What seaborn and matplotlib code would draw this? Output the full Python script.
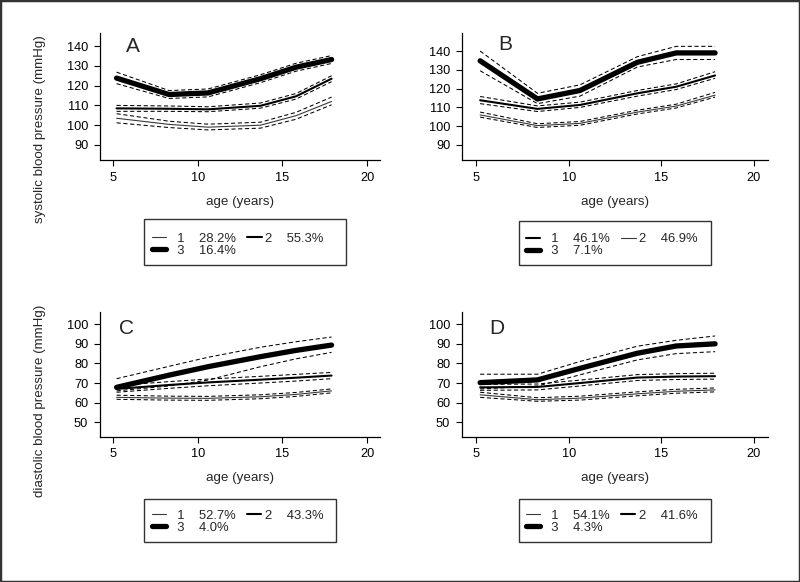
import matplotlib
matplotlib.use("Agg")
import matplotlib.pyplot as plt
from matplotlib.lines import Line2D
from matplotlib.patches import Rectangle
import seaborn as sns

sns.set_style("ticks")
plt.rcParams['font.family'] = ['Liberation Sans', 'DejaVu Sans']

# measurement waves (age in years)
ages = [5.2, 8.3, 10.6, 13.7, 15.8, 17.9]

# A: systolic, boys (class 1, 2, 3): estimate, lower, upper
a1 = [103.5, 100.4, 99.0, 100.0, 104.8, 112.0]
a1_lo = [101.2, 98.8, 97.6, 98.5, 103.0, 110.3]
a1_hi = [105.8, 102.0, 100.5, 101.5, 106.5, 114.2]
a2 = [108.5, 108.3, 108.0, 109.8, 114.6, 123.5]
a2_lo = [107.0, 107.0, 106.8, 108.6, 113.2, 122.0]
a2_hi = [110.0, 109.7, 109.3, 111.2, 116.0, 125.0]
a3 = [123.8, 115.5, 116.3, 123.5, 129.3, 133.2]
a3_lo = [121.0, 113.5, 114.3, 121.5, 127.3, 131.2]
a3_hi = [126.8, 117.5, 118.3, 125.5, 131.3, 135.2]

# B: systolic, girls
b1 = [113.8, 109.2, 111.3, 117.5, 121.0, 127.0]
b1_lo = [112.0, 107.8, 110.0, 116.0, 119.5, 125.5]
b1_hi = [115.8, 110.8, 112.8, 119.0, 122.5, 129.0]
b2 = [106.0, 100.3, 101.5, 107.5, 110.7, 116.5]
b2_lo = [104.8, 99.3, 100.5, 106.5, 109.7, 115.5]
b2_hi = [107.5, 101.3, 102.5, 108.5, 111.7, 118.0]
b3 = [134.8, 114.5, 119.0, 134.0, 139.0, 139.0]
b3_lo = [129.5, 112.0, 116.0, 131.5, 135.5, 135.5]
b3_hi = [140.0, 117.5, 122.0, 137.0, 142.5, 142.5]

# C: diastolic, boys
c1 = [62.7, 62.3, 62.2, 63.0, 64.2, 66.0]
c1_lo = [61.7, 61.3, 61.2, 62.0, 63.2, 65.0]
c1_hi = [63.8, 63.3, 63.2, 64.0, 65.2, 67.0]
c2 = [67.0, 69.0, 70.3, 71.7, 72.7, 73.8]
c2_lo = [65.3, 67.3, 68.6, 70.0, 71.0, 72.2]
c2_hi = [68.7, 70.7, 72.0, 73.4, 74.4, 75.4]
c3 = [67.8, 74.0, 78.3, 83.4, 86.6, 89.3]
c3_lo = [66.0, 68.5, 71.5, 78.3, 82.3, 85.6]
c3_hi = [72.2, 78.5, 83.1, 88.2, 91.0, 93.4]

# D: diastolic, girls
d1 = [64.0, 61.5, 62.3, 64.5, 65.8, 66.5]
d1_lo = [62.7, 60.7, 61.3, 63.5, 64.8, 65.5]
d1_hi = [65.3, 62.5, 63.3, 65.5, 66.8, 67.5]
d2 = [67.8, 68.0, 70.0, 72.8, 73.3, 73.5]
d2_lo = [66.3, 66.5, 68.5, 71.3, 71.8, 72.0]
d2_hi = [69.3, 69.5, 71.5, 74.3, 74.8, 75.0]
d3 = [70.2, 71.6, 77.5, 85.2, 88.9, 90.0]
d3_lo = [67.0, 68.5, 74.2, 81.8, 85.0, 86.0]
d3_hi = [74.5, 74.5, 81.0, 88.8, 91.8, 94.0]

class_pct_A = ["28.2%", "55.3%", "16.4%"]
class_pct_B = ["46.1%", "46.9%", "7.1%"]
class_pct_C = ["52.7%", "43.3%", "4.0%"]
class_pct_D = ["54.1%", "41.6%", "4.3%"]

sys_ticks = [90, 100, 110, 120, 130, 140]
dia_ticks = [50, 60, 70, 80, 90, 100]
age_ticks = [5, 10, 15, 20]

THIN, MED, THICK = 0.8, 1.5, 3.8
TICK_FS, LAB_FS, LEG_FS = 9.2, 9.6, 9.4

fig = plt.figure(figsize=(8, 5.82), dpi=100)

panels = [
    # letter, axes rect, ylim, yticks, series, widths, pct, letter pos,
    # legend box (x, y, w, h) and first legend row (handle x, centre y), pixels
    ("A", [0.125, 0.7251, 0.35, 0.2182], (82.4, 146.6), sys_ticks,
     [(a1, a1_lo, a1_hi), (a2, a2_lo, a2_hi), (a3, a3_lo, a3_hi)],
     [THIN, MED, THICK], class_pct_A, (133, 46), (144, 219, 202, 46), (152, 237)),
    ("B", [0.5775, 0.7251, 0.3825, 0.2182], (82.0, 149.6), sys_ticks,
     [(b1, b1_lo, b1_hi), (b2, b2_lo, b2_hi), (b3, b3_lo, b3_hi)],
     [MED, THIN, THICK], class_pct_B, (505, 44), (519, 221, 192, 44), (526, 237.5)),
    ("C", [0.125, 0.2497, 0.35, 0.2148], (42.7, 106.3), dia_ticks,
     [(c1, c1_lo, c1_hi), (c2, c2_lo, c2_hi), (c3, c3_lo, c3_hi)],
     [THIN, MED, THICK], class_pct_C, (127, 328), (144, 499, 192, 43), (152, 514)),
    ("D", [0.5775, 0.2497, 0.3825, 0.2148], (42.65, 106.4), dia_ticks,
     [(d1, d1_lo, d1_hi), (d2, d2_lo, d2_hi), (d3, d3_lo, d3_hi)],
     [THIN, MED, THICK], class_pct_D, (497, 328), (519, 499, 192, 43), (526, 514)),
]

W, H = 800, 582


def line_col(lw):
    return "#3a3a3a" if lw == THIN else "black"


for letter, rect, ylim, yticks, series, widths, pct, lpos, lbox, lrow in panels:
    ax = fig.add_axes(rect)
    for (est, lo, hi), lw in zip(series, widths):
        for bound in (lo, hi):
            sns.lineplot(x=ages, y=bound, ax=ax, color="black", lw=0.75,
                         linestyle=(0, (4, 2.5)), legend=False)
        sns.lineplot(x=ages, y=est, ax=ax, color=line_col(lw), lw=lw,
                     legend=False, solid_capstyle="round")
    ax.set_xlim(4.22, 20.76)
    ax.set_ylim(*ylim)
    ax.set_xticks(age_ticks)
    ax.set_yticks(yticks)
    ax.tick_params(axis="both", direction="out", length=4.5, width=0.8,
                   labelsize=TICK_FS, colors="black")
    ax.tick_params(axis="x", pad=4)
    ax.tick_params(axis="y", pad=4)
    sns.despine(ax=ax)
    for s in ("left", "bottom"):
        ax.spines[s].set_linewidth(0.9)
        ax.spines[s].set_color("black")
    ax.set_xlabel("age (years)", fontsize=LAB_FS, labelpad=8.5)
    ax.set_ylabel("")
    fig.text(lpos[0] / W, 1 - lpos[1] / H, letter, fontsize=15,
             ha="center", va="center")

    # legend box
    bx, by, bw, bh = lbox
    fig.patches.append(Rectangle((bx / W, 1 - (by + bh) / H), bw / W, bh / H,
                                 transform=fig.transFigure, fill=False,
                                 edgecolor="#333333", lw=1.0))
    handles = [
        Line2D([], [], color=line_col(widths[0]), lw=widths[0]),
        Line2D([], [], color="black", lw=THICK),
        Line2D([], [], color=line_col(widths[1]), lw=widths[1]),
    ]
    labels = ["  1    " + pct[0], "  3    " + pct[2], "2    " + pct[1]]
    fig.legend(handles, labels, loc="upper left",
               bbox_to_anchor=(lrow[0] / W, 1 - (lrow[1] - 4.5) / H),
               ncol=2, frameon=False, fontsize=LEG_FS, handlelength=1.1,
               handletextpad=0.25, columnspacing=0.9, labelspacing=0.0,
               borderpad=0, borderaxespad=0)

fig.text(40 / W, 1 - 129 / H, "systolic blood pressure (mmHg)", rotation=90,
         fontsize=LAB_FS, ha="center", va="center")
fig.text(40 / W, 1 - 401 / H, "diastolic blood pressure (mmHg)", rotation=90,
         fontsize=LAB_FS, ha="center", va="center")

fig.patches.append(Rectangle((0, 0), 1, 1, transform=fig.transFigure,
                             fill=False, edgecolor="#333333", lw=2.5))

fig.savefig("out.png", dpi=100)
